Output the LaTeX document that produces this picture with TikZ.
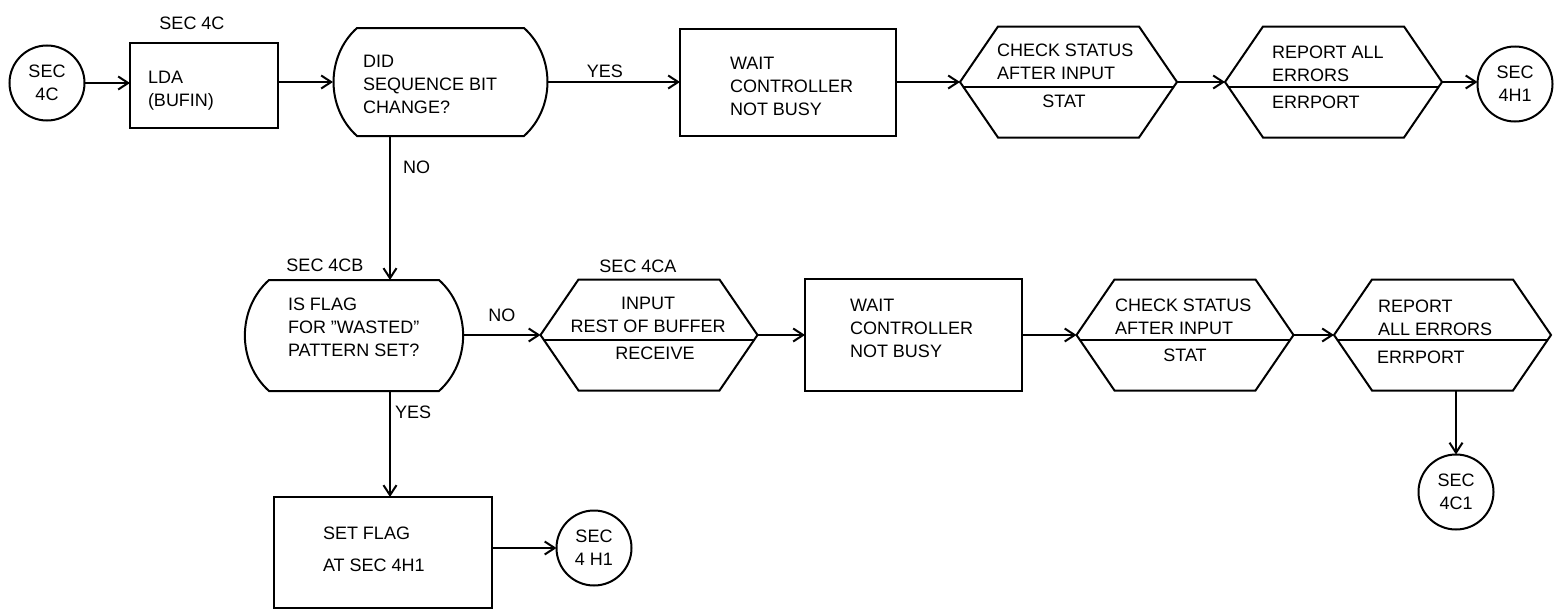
\documentclass[tikz,border=0pt]{standalone}
\usepackage{fontspec}
\setmainfont{Liberation Sans}
\usetikzlibrary{arrows.meta}

% outlines drawn round empty nodes
\newcommand{\drawhex}[1]{%
  \draw (#1.west) -- ([xshift=38pt]#1.north west) -- ([xshift=-38pt]#1.north east)
    -- (#1.east) -- ([xshift=-38pt]#1.south east) -- ([xshift=38pt]#1.south west) -- cycle;
  \draw ([xshift=3.4pt,yshift=-5pt]#1.west) -- ([xshift=-3.4pt,yshift=-5pt]#1.east);}
\newcommand{\drawdec}[1]{%
  \draw ([xshift=24pt]#1.north west) -- ([xshift=-24pt]#1.north east)
    to[out=-42,in=42] ([xshift=-24pt]#1.south east) -- ([xshift=24pt]#1.south west)
    to[out=138,in=-138] ([xshift=24pt]#1.north west) -- cycle;}

\begin{document}
\begin{tikzpicture}[x=1pt,y=1pt,line width=2pt,
  every node/.style={font=\fontsize{18}{23}\selectfont,inner sep=0pt,outer sep=0pt},
  txt/.style={align=left,anchor=west},
  box/.style={draw,rectangle},
  hexnode/.style={rectangle,minimum width=217pt,minimum height=111pt},
  conn/.style={circle,draw,minimum size=75pt,align=center},
  flow/.style={-{Straight Barb[length=10pt,width=13pt]}}]
\useasboundingbox (0,0) rectangle (1564,-613);
\coordinate (nocol) at (390,-200);

% top row
\node[conn] (c4c) at (47,-83) {SEC\\4C};
\node (s4c) at (192,-23) {SEC 4C};
\node[box,minimum width=148pt,minimum height=85pt] (lda) at (204,-85.5) {};
\node[txt] (ldatxt) at (148,-90.5) {LDA\\(BUFIN)};
\node[minimum width=215pt,minimum height=108pt] (dec1) at (440.5,-82) {};
\drawdec{dec1}
\node[txt] (dec1txt) at (363,-84) {DID\\SEQUENCE BIT\\CHANGE?};
\node[box,minimum width=216pt,minimum height=107pt] (wait1) at (788,-82.5) {};
\node[txt] (wait1txt) at (730,-86) {WAIT\\CONTROLLER\\NOT BUSY};
\node[hexnode] (chk1) at (1068.5,-82) {};
\drawhex{chk1}
\node[align=left,anchor=south west] (chk1u) at (997,-80) {CHECK STATUS\\AFTER INPUT};
\node (chk1l) at (1064,-101) {STAT};
\node[hexnode] (rep1) at (1333.5,-82) {};
\drawhex{rep1}
\node[align=left,anchor=south west] (rep1u) at (1272,-82) {REPORT ALL\\ERRORS};
\node[anchor=west] (rep1l) at (1272,-102) {ERRPORT};
\node[conn] (c4h1) at (1515,-84) {SEC\\4H1};

% second row
\node (s4cb) at (325,-265) {SEC 4CB};
\node[minimum width=218pt,minimum height=111pt] (dec2) at (354,-335.5) {};
\drawdec{dec2}
\node[txt] (dec2txt) at (288,-327) {IS FLAG\\FOR "WASTED"\\PATTERN SET?};
\node (s4ca) at (638,-266) {SEC 4CA};
\node[hexnode] (inp) at (649,-335) {};
\drawhex{inp}
\node[align=center,anchor=south] (inpu) at (648,-333) {INPUT\\REST OF BUFFER};
\node (inpl) at (655,-353) {RECEIVE};
\node[box,minimum width=217pt,minimum height=112pt] (wait2) at (913.5,-334.5) {};
\node[txt] (wait2txt) at (850,-328) {WAIT\\CONTROLLER\\NOT BUSY};
\node[hexnode] (chk2) at (1185,-335) {};
\drawhex{chk2}
\node[align=left,anchor=south west] (chk2u) at (1115,-335) {CHECK STATUS\\AFTER INPUT};
\node (chk2l) at (1185,-355) {STAT};
\node[hexnode] (rep2) at (1442.5,-335) {};
\drawhex{rep2}
\node[align=left,anchor=south west] (rep2u) at (1378,-336) {REPORT\\ALL ERRORS};
\node[anchor=west] (rep2l) at (1377,-357) {ERRPORT};
\node[conn] (c4c1) at (1456,-492) {SEC\\4C1};

% third row
\node[box,minimum width=218pt,minimum height=111pt] (setf) at (383,-552.5) {};
\node[txt] (setftxt) at (323,-549) {SET FLAG\\[9pt]AT SEC 4H1};
\node[conn] (c4h1b) at (594,-548) {SEC\\4 H1};

% connectors
\draw[flow] (c4c.east) -- (c4c.east -| lda.west);
\draw[flow] (lda.east |- dec1) -- (dec1.west);
\draw[flow] (dec1.east) -- node[pos=0.43,above=4pt] (yes1) {YES} (wait1.west |- dec1);
\draw[flow] (wait1.east |- chk1) -- (chk1.west);
\draw[flow] (chk1.east) -- (rep1.west);
\draw[flow] (rep1.east) -- (rep1.east -| c4h1.west);
\draw[flow] (dec1.south -| nocol) -- node[pos=0.22,right=13pt] (no1) {NO} (dec2.north -| nocol);
\draw[flow] (dec2.east |- inp) -- node[above=13.5pt] (no2) {NO} (inp.west);
\draw[flow] (inp.east) -- (inp.east -| wait2.west);
\draw[flow] (wait2.east |- chk2) -- (chk2.west);
\draw[flow] (chk2.east) -- (rep2.west);
\draw[flow] (rep2.south -| c4c1) -- (c4c1.north);
\draw[flow] (dec2.south -| nocol) -- node[pos=0.2,right=5pt] (yes2) {YES} (setf.north -| nocol);
\draw[flow] (c4h1b -| setf.east) -- (c4h1b.west);

\end{tikzpicture}
\end{document}
